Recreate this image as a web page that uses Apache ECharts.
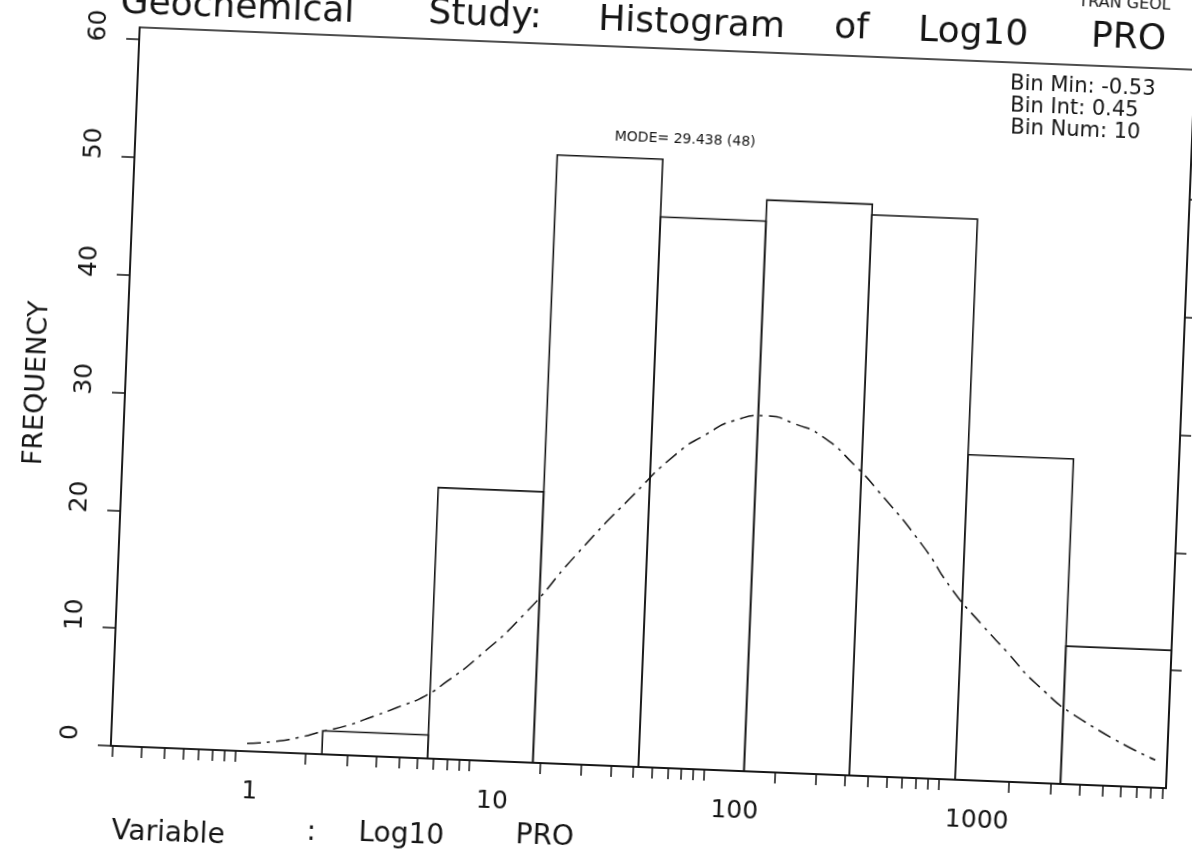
<!DOCTYPE html>
<html>
<head>
<meta charset="utf-8">
<title>Geochemical Study: Histogram of Log10 PRO</title>
<script src="https://cdn.jsdelivr.net/npm/echarts@6/dist/echarts.min.js"></script>
<style>
  html, body { margin: 0; padding: 0; width: 1192px; height: 854px; overflow: hidden; background: #fff; }
  /* the scanned page sits a little crooked, so the plot is turned the same way.
     the box is 40px larger on every side so nothing gets cut before it is turned */
  #main { position: absolute; left: -40px; top: -40px; width: 1272px; height: 934px; transform: rotate(2.3deg); }
</style>
</head>
<body>
<div id="main"></div>
<script>
// bins are in log10 units : Bin Min -0.53, Bin Int 0.45, Bin Num 10
var binEdges = [-0.53, -0.08, 0.37, 0.82, 1.27, 1.72, 2.17, 2.62, 3.07, 3.52, 3.97];
var binCounts = [0, 0, 2, 23, 51.6, 46.7, 48.5, 47.6, 27.6, 11.7];

// dash-dot curve (x in log10 units)
var curveX = [0.05, 0.16, 0.27, 0.37, 0.47, 0.56, 0.68, 0.80, 0.89, 1.01, 1.21, 1.42, 1.65, 1.83,
              1.95, 2.07, 2.20, 2.33, 2.45, 2.59, 2.69, 2.89, 3.03, 3.16, 3.27, 3.40, 3.60, 3.92];
var curveY = [0.65, 0.9, 1.35, 1.95, 2.5, 3.2, 4.2, 5.3, 6.6, 8.6, 12.6, 17.8, 23.0, 26.7,
              28.4, 29.7, 30.2, 29.6, 28.6, 26.3, 24.3, 19.8, 16.0, 13.2, 11.0, 8.4, 5.5, 2.35];

var majorTicks = [0, 1, 2, 3];          // shown as 1, 10, 100, 1000
var yTicks = [0, 10, 20, 30, 40, 50, 60];
var rightTicks = [10, 20, 30, 40, 50];

// log cycle ticks 0.3 ... 9000
var logTicks = [];
for (var e = -1; e <= 3; e++) {
    for (var k = 1; k <= 9; k++) {
        var v = Math.log10(k * Math.pow(10, e));
        if (v >= binEdges[0] && v <= binEdges[binEdges.length - 1]) logTicks.push(v);
    }
}

var ink = '#151515';
var font = 'DejaVu Sans';

function txt(s, x, y, size) {
    return {
        type: 'text', x: x, y: y, silent: true,
        style: { text: s, fontSize: size, fontFamily: font, fill: ink, align: 'left', verticalAlign: 'middle' }
    };
}

var chart = echarts.init(document.getElementById('main'));

var option = {
    animation: false,
    backgroundColor: '#fff',
    grid: { left: 164, right: 52, top: 86, bottom: 129, show: true, borderColor: ink, borderWidth: 1.6 },
    xAxis: {
        type: 'value',
        min: binEdges[0],
        max: binEdges[binEdges.length - 1],
        axisLine: { onZero: false, lineStyle: { color: ink, width: 1.6 } },
        axisTick: { customValues: logTicks, length: 11, lineStyle: { color: ink, width: 1.5 } },
        axisLabel: {
            customValues: majorTicks,
            formatter: function (v) { return String(Math.round(Math.pow(10, v))); },
            align: 'left', margin: 28, padding: [0, 0, 0, 8], fontSize: 25, fontFamily: font, color: ink
        },
        splitLine: { show: false }
    },
    yAxis: [{
        type: 'value',
        min: 0, max: 61,
        name: 'FREQUENCY', nameLocation: 'middle', nameGap: 75, nameRotate: 90,
        nameTextStyle: { fontSize: 27, fontFamily: font, color: ink },
        axisLine: { show: true, onZero: false, lineStyle: { color: ink, width: 1.6 } },
        axisTick: { customValues: yTicks, length: 13, lineStyle: { color: ink, width: 1.5 } },
        axisLabel: {
            customValues: yTicks, rotate: 90, margin: 28, padding: [0, 0, 0, 24],
            fontSize: 25, fontFamily: font, color: ink
        },
        splitLine: { show: false }
    }, {
        type: 'value',
        position: 'right',
        min: 0, max: 61,
        axisLine: { show: true, onZero: false, lineStyle: { color: ink, width: 1.6 } },
        axisTick: { customValues: rightTicks, length: 11, lineStyle: { color: ink, width: 1.5 } },
        axisLabel: { show: false },
        splitLine: { show: false }
    }],
    graphic: [
        txt('Geochemical', 144, 63, 36),
        txt('Study:', 452, 61, 36),
        txt('Histogram', 622, 61, 36),
        txt('of', 858, 59, 36),
        txt('Log10', 942, 58.5, 36),
        txt('PRO', 1115, 57.5, 36),
        txt('TRAN GEOL', 1101, 22.5, 16),
        txt('Bin Min: -0.53', 1036, 108, 21),
        txt('Bin Int: 0.45', 1037, 130, 21),
        txt('Bin Num: 10', 1038, 152, 21),
        txt('MODE= 29.438 (48)', 643, 176, 14),
        txt('Variable', 168, 891, 28),
        txt(':', 363, 884, 28),
        txt('Log10', 415, 883, 28),
        txt('PRO', 572, 879, 28)
    ],
    series: [{
        type: 'custom',
        name: 'bins',
        renderItem: function (params, api) {
            var count = api.value(2);
            if (!count) return null;
            var p0 = api.coord([api.value(0), 0]);
            var p1 = api.coord([api.value(1), count]);
            return {
                type: 'rect',
                shape: { x: p0[0], y: p1[1], width: p1[0] - p0[0], height: p0[1] - p1[1] },
                style: { fill: 'transparent', stroke: ink, lineWidth: 1.6 }
            };
        },
        encode: { x: [0, 1], y: 2 },
        data: binCounts.map(function (c, i) { return [binEdges[i], binEdges[i + 1], c]; }),
        z: 2
    }, {
        type: 'line',
        name: 'curve',
        data: curveX.map(function (x, i) { return [x, curveY[i]]; }),
        smooth: 0.6,
        symbol: 'none',
        lineStyle: { color: ink, width: 1.5, type: [14, 6, 3, 6] },
        z: 3
    }]
};

chart.setOption(option);
</script>
</body>
</html>
